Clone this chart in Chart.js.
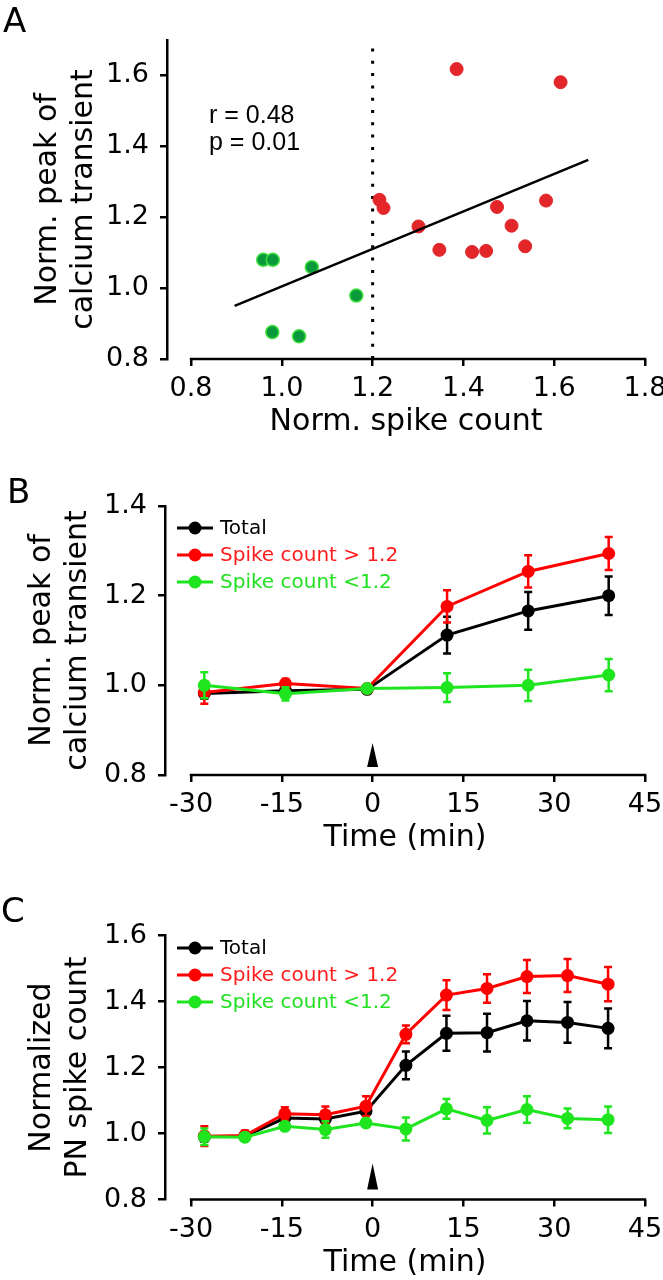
<!DOCTYPE html>
<html>
<head>
<meta charset="utf-8">
<script src="https://cdn.jsdelivr.net/npm/chart.js@4.4.1/dist/chart.umd.min.js"></script>
<style>
  body { margin: 0; background: #fff; }
  #wrap { position: relative; width: 663px; height: 1280px; }
  canvas { position: absolute; left: 0; }
  .letter { position: absolute; font-family: 'DejaVu Sans', sans-serif; font-size: 34px; color: #000; line-height: 1; }
</style>
</head>
<body>
<div id="wrap">
  <canvas id="panelA" width="663" height="445" style="top:0"></canvas>
  <canvas id="panelB" width="663" height="420" style="top:445px"></canvas>
  <canvas id="panelC" width="663" height="420" style="top:860px"></canvas>
  <div class="letter" style="left:3px;top:3px">A</div>
  <div class="letter" style="left:7px;top:474px">B</div>
  <div class="letter" style="left:1px;top:893px">C</div>
</div>
<script>
// Panel A: scatter of normalized spike count vs normalized calcium peak
const redSpikeA = [1.385, 1.614, 1.215, 1.224, 1.301, 1.347, 1.419, 1.450, 1.474, 1.506, 1.536, 1.582];
const redPeakA = [1.618, 1.581, 1.249, 1.226, 1.174, 1.108, 1.102, 1.105, 1.229, 1.176, 1.118, 1.247];
const greenSpikeA = [0.959, 0.980, 1.066, 1.164, 0.979, 1.038];
const greenPeakA = [1.080, 1.080, 1.059, 0.979, 0.876, 0.864];
const fitSpikeA = [0.896, 1.675];
const fitPeakA = [0.950, 1.362];
const thresholdA = 1.2;
const statsA = ['r = 0.48', 'p = 0.01'];
const xTicksA = [0.8, 1.0, 1.2, 1.4, 1.6, 1.8];
const yTicksA = [0.8, 1.0, 1.2, 1.4, 1.6];

// Panel B: calcium transient over time
const timesB = [-27.8, -14.4, -0.9, 12.3, 25.7, 39.0];
const totalB = [0.982, 0.988, 0.991, 1.112, 1.166, 1.200];
const totalErrB = [0.012, 0.008, 0.008, 0.041, 0.042, 0.043];
const highB = [0.984, 1.004, 0.993, 1.176, 1.254, 1.294];
const highErrB = [0.025, 0.010, 0.008, 0.036, 0.036, 0.037];
const lowB = [1.000, 0.981, 0.993, 0.995, 1.000, 1.023];
const lowErrB = [0.029, 0.015, 0.008, 0.032, 0.035, 0.036];
const yTicksB = [0.8, 1.0, 1.2, 1.4];

// Panel C: PN spike count over time
const timesC = [-27.8, -21.1, -14.5, -7.8, -1.1, 5.5, 12.2, 18.9, 25.5, 32.2, 38.9];
const totalC = [0.990, 0.992, 1.047, 1.044, 1.068, 1.207, 1.304, 1.306, 1.342, 1.337, 1.319];
const totalErrC = [0.015, 0.010, 0.012, 0.012, 0.012, 0.042, 0.053, 0.057, 0.060, 0.062, 0.060];
const highC = [0.992, 0.994, 1.060, 1.057, 1.083, 1.301, 1.420, 1.440, 1.476, 1.479, 1.453];
const highErrC = [0.030, 0.015, 0.020, 0.025, 0.030, 0.027, 0.045, 0.043, 0.050, 0.050, 0.052];
const lowC = [0.990, 0.989, 1.022, 1.012, 1.032, 1.014, 1.075, 1.040, 1.073, 1.046, 1.042];
const lowErrC = [0.025, 0.010, 0.010, 0.025, 0.010, 0.035, 0.030, 0.040, 0.040, 0.030, 0.040];
const yTicksC = [0.8, 1.0, 1.2, 1.4, 1.6];

const timeTicks = [-30, -15, 0, 15, 30, 45];
const seriesNames = ['Total', 'Spike count > 1.2', 'Spike count <1.2'];
const seriesColors = ['#000000', '#ff0000', '#1fe51f'];
const legendColors = ['#000000', '#ff1c1c', '#22e022'];
const arrowTime = 0;

const FONT = "'DejaVu Sans', sans-serif";
const tickFont = { family: FONT, size: 27 };
const yTitleFont = { family: FONT, size: 30, lineHeight: 1.2 };
const xTitleFont = { family: FONT, size: 30, lineHeight: 1.0 };

const toPoints = (xs, ys) => xs.map((x, i) => ({ x: x, y: ys[i] }));

// draws the x axis line only between first and last tick, plus the marker/legend/stat extras
const axisExtras = {
    id: 'axisExtras',
    afterDraw(chart, args, opts) {
        const ctx = chart.ctx;
        const xs = chart.scales.x;
        const bottom = chart.chartArea.bottom;
        ctx.save();
        ctx.strokeStyle = '#000';
        ctx.lineWidth = 2.5;
        ctx.beginPath();
        ctx.moveTo(xs.getPixelForValue(xs.ticks[0].value) - 1.25, bottom);
        ctx.lineTo(xs.getPixelForValue(xs.ticks[xs.ticks.length - 1].value) + 1.25, bottom);
        ctx.stroke();

        if (opts.arrow) {
            const ax = xs.getPixelForValue(arrowTime);
            ctx.fillStyle = '#000';
            ctx.beginPath();
            ctx.moveTo(ax, bottom - opts.arrow[0]);
            ctx.lineTo(ax - 5.5, bottom - opts.arrow[1]);
            ctx.lineTo(ax + 5.5, bottom - opts.arrow[1]);
            ctx.closePath();
            ctx.fill();
        }

        if (opts.legend) {
            ctx.font = '20px ' + FONT;
            ctx.textBaseline = 'middle';
            ctx.textAlign = 'left';
            seriesNames.forEach((name, i) => {
                const y = opts.legend.y + i * opts.legend.dy;
                const x = opts.legend.x;
                ctx.strokeStyle = seriesColors[i];
                ctx.fillStyle = seriesColors[i];
                ctx.lineWidth = 3;
                ctx.beginPath();
                ctx.moveTo(x, y);
                ctx.lineTo(x + 36, y);
                ctx.stroke();
                ctx.beginPath();
                ctx.arc(x + 18, y, 6.5, 0, Math.PI * 2);
                ctx.fill();
                ctx.fillStyle = legendColors[i];
                ctx.fillText(name, x + 43, y + 1);
            });
        }

        if (opts.stats) {
            ctx.font = "25px 'Liberation Sans', Arial, sans-serif";
            ctx.fillStyle = '#000';
            ctx.textBaseline = 'middle';
            ctx.textAlign = 'left';
            opts.stats.lines.forEach((t, i) => {
                ctx.fillText(t, opts.stats.x, opts.stats.y + i * 27);
            });
        }
        ctx.restore();
    }
};

// error bars drawn right after each dataset so later series sit on top
const errorBars = {
    id: 'errorBars',
    afterDatasetDraw(chart, args) {
        const ds = chart.data.datasets[args.index];
        if (!ds.errors) return;
        const ys = chart.scales.y;
        const ctx = chart.ctx;
        ctx.save();
        ctx.strokeStyle = ds.borderColor;
        ctx.lineWidth = 2.5;
        args.meta.data.forEach((pt, i) => {
            const v = ds.data[i].y;
            const e = ds.errors[i];
            const top = ys.getPixelForValue(v + e);
            const bot = ys.getPixelForValue(v - e);
            ctx.beginPath();
            ctx.moveTo(pt.x, top);
            ctx.lineTo(pt.x, bot);
            ctx.moveTo(pt.x - 4, top);
            ctx.lineTo(pt.x + 4, top);
            ctx.moveTo(pt.x - 4, bot);
            ctx.lineTo(pt.x + 4, bot);
            ctx.stroke();
        });
        ctx.restore();
    }
};

function xScale(min, max, ticks, title, decimals, height, titlePad) {
    return {
        type: 'linear',
        position: 'bottom',
        min: min,
        max: max,
        afterBuildTicks: s => { s.ticks = ticks.map(v => ({ value: v })); },
        afterFit: s => { s.height = height; s.paddingLeft = 0; s.paddingRight = 0; },
        border: { display: false },
        grid: { drawOnChartArea: false, drawTicks: true, tickLength: 7, color: '#000', lineWidth: 2.5 },
        ticks: { color: '#000', font: tickFont, padding: 7, maxRotation: 0, autoSkip: false,
                 callback: v => v.toFixed(decimals) },
        title: { display: true, text: title, color: '#000', font: xTitleFont, padding: { bottom: titlePad } }
    };
}

function yScale(min, max, ticks, title, width, titlePad) {
    return {
        type: 'linear',
        position: 'left',
        min: min,
        max: max,
        afterBuildTicks: s => { s.ticks = ticks.map(v => ({ value: v })); },
        afterFit: s => { s.width = width; s.paddingTop = 0; s.paddingBottom = 0; },
        border: { display: true, color: '#000', width: 2.5 },
        grid: { drawOnChartArea: false, drawTicks: true, tickLength: 7, color: '#000', lineWidth: 2.5 },
        ticks: { color: '#000', font: tickFont, padding: 11, autoSkip: false, callback: v => v.toFixed(1) },
        title: { display: true, text: title, color: '#000', font: yTitleFont, padding: { top: titlePad } }
    };
}

function baseOptions(top, scales, extras) {
    return {
        responsive: false,
        animation: false,
        devicePixelRatio: 1,
        layout: { padding: { top: top, right: 18, left: 0, bottom: 0 } },
        scales: scales,
        plugins: {
            legend: { display: false },
            tooltip: { enabled: false },
            axisExtras: extras
        }
    };
}

// Panel A
const ctxA = document.getElementById('panelA').getContext('2d');
const chartA = new Chart(ctxA, {
    type: 'scatter',
    data: {
        datasets: [
            {
                data: toPoints([thresholdA, thresholdA], [0.8, 1.7]),
                showLine: true, borderColor: '#000', borderWidth: 3, borderDash: [3, 9.3],
                pointRadius: 0, order: 4
            },
            {
                data: toPoints(fitSpikeA, fitPeakA),
                showLine: true, borderColor: '#000', borderWidth: 2.5, pointRadius: 0, order: 1
            },
            {
                data: toPoints(redSpikeA, redPeakA),
                backgroundColor: '#e2262a', borderColor: '#e2262a', borderWidth: 1,
                pointRadius: 6.5, order: 2
            },
            {
                data: toPoints(greenSpikeA, greenPeakA),
                backgroundColor: '#0a9a3c', borderColor: '#3ee03e', borderWidth: 1.5,
                pointRadius: 6.5, order: 3
            }
        ]
    },
    options: baseOptions(40, {
        x: xScale(0.747, 1.8, xTicksA, 'Norm. spike count', 1, 86, 7.5),
        y: yScale(0.8, 1.7, yTicksA, ['Norm. peak of', 'calcium transient'], 167, 30)
    }, { stats: { lines: statsA, x: 209, y: 116 } }),
    plugins: [axisExtras]
});

function timeDatasets(times, series, errors) {
    return series.map((vals, i) => ({
        label: seriesNames[i],
        data: toPoints(times, vals),
        errors: errors[i],
        showLine: true,
        borderColor: seriesColors[i],
        backgroundColor: seriesColors[i],
        borderWidth: 3,
        pointRadius: 6.5,
        pointBorderWidth: 0,
        order: 3 - i
    }));
}

// Panel B
const ctxB = document.getElementById('panelB').getContext('2d');
const chartB = new Chart(ctxB, {
    type: 'scatter',
    data: { datasets: timeDatasets(timesB, [totalB, highB, lowB], [totalErrB, highErrB, lowErrB]) },
    options: baseOptions(61, {
        x: xScale(-34.3, 45, timeTicks, 'Time (min)', 0, 90, 11.5),
        y: yScale(0.8, 1.4, yTicksB, ['Norm. peak of', 'calcium transient'], 165, 24)
    }, { arrow: [32, 8], legend: { x: 177, y: 83, dy: 27 } }),
    plugins: [axisExtras, errorBars]
});

// Panel C
const ctxC = document.getElementById('panelC').getContext('2d');
const chartC = new Chart(ctxC, {
    type: 'scatter',
    data: { datasets: timeDatasets(timesC, [totalC, highC, lowC], [totalErrC, highErrC, lowErrC]) },
    options: baseOptions(75.7, {
        x: xScale(-34.3, 45, timeTicks, 'Time (min)', 0, 80.5, 2),
        y: yScale(0.8, 1.6, yTicksC, ['Normalized', 'PN spike count'], 165, 24)
    }, { arrow: [36, 10], legend: { x: 177, y: 88, dy: 27 } }),
    plugins: [axisExtras, errorBars]
});
</script>
</body>
</html>
